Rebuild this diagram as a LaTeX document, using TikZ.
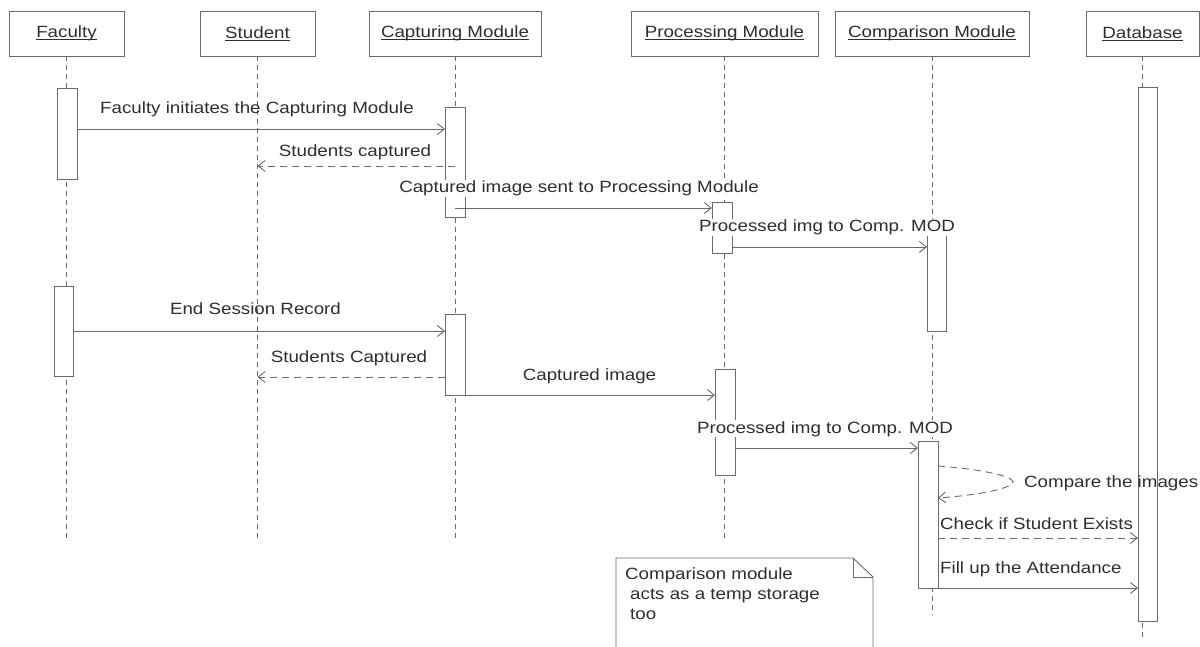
\documentclass[tikz,border=0pt]{standalone}
\usepackage{fontspec}
\setmainfont{Liberation Sans}[FakeStretch=1.15]
\usetikzlibrary{arrows.meta}

\definecolor{ink}{HTML}{2E2E2E}
\definecolor{wire}{HTML}{6A6A6A}

% underlined header caption, rule crossing the descenders
\newsavebox\hdrbox
\newcommand\hdrline[1]{\sbox\hdrbox{#1}\rlap{\rule[-2.2pt]{\wd\hdrbox}{0.9pt}}\usebox\hdrbox}

\begin{document}
\begin{tikzpicture}[
  x=1pt, y=-1pt,
  font=\fontsize{16.3pt}{19pt}\selectfont,
  text=ink,
  head/.style={draw=wire, line width=0.9pt, fill=white, inner sep=0pt,
    outer sep=0pt, minimum height=45pt},
  act/.style={draw=wire, line width=0.9pt, fill=white, inner sep=0pt,
    outer sep=0pt},
  life/.style={draw=wire, line width=0.9pt, dash pattern=on 5pt off 4pt},
  msg/.style={draw=wire, line width=0.9pt,
    -{Straight Barb[length=7pt,width=11pt]}},
  reply/.style={msg, dash pattern=on 7pt off 5pt},
  lbl/.style={anchor=base, inner sep=0pt},
  cover/.style={lbl, fill=white, inner sep=1pt},
  lblw/.style={anchor=base west, inner sep=0pt},
]
\useasboundingbox (0,0) rectangle (1200,647);
\fill[white] (0,0) rectangle (1200,647);

% ---- participants
\node[head, minimum width=115pt] (fac) at (66.5,33.5)  {\hdrline{Faculty}};
\node[head, minimum width=115pt] (stu) at (257.5,33.5) {\hdrline{Student}};
\node[head, minimum width=172pt] (cap) at (455,33.5)   {\hdrline{Capturing Module}};
\node[head, minimum width=187pt] (pro) at (724.5,33.5) {\hdrline{Processing Module}};
\node[head, minimum width=194pt] (cmp) at (932,33.5)   {\hdrline{Comparison Module}};
\node[head, minimum width=113pt] (dbs) at (1142.5,33.5){\hdrline{Database}};

% ---- lifelines
\draw[life] (fac.south) -- (fac.south |- 0,540);
\draw[life] (stu.south) -- (stu.south |- 0,540);
\draw[life] (cap.south) -- (cap.south |- 0,540);
\draw[life] (pro.south) -- (pro.south |- 0,540);
\draw[life] (cmp.south) -- (cmp.south |- 0,615);
\draw[life] (dbs.south) -- (dbs.south |- 0,640);

% ---- activation bars
\node[act, minimum width=20pt, minimum height=91pt]  (fa1) at (67,133.5)   {};
\node[act, minimum width=19pt, minimum height=90pt]  (fa2) at (63.5,331)   {};
\node[act, minimum width=20pt, minimum height=110pt] (ca1) at (455,162)    {};
\node[act, minimum width=20pt, minimum height=81pt]  (ca2) at (455,354.5)  {};
\node[act, minimum width=20pt, minimum height=51pt]  (pa1) at (722,227.5)  {};
\node[act, minimum width=20pt, minimum height=106pt] (pa2) at (725,422)    {};
\node[act, minimum width=19pt, minimum height=97pt]  (ma1) at (936.5,282.5){};
\node[act, minimum width=20pt, minimum height=147pt] (ma2) at (928,514.5)  {};
\node[act, minimum width=19pt, minimum height=534pt] (da1) at (1147.5,354) {};

% ---- messages
\draw[msg]   (fa1.east |- 0,129) -- (ca1.west |- 0,129);
\draw[reply] (ca1.center |- 0,166) -- (stu.south |- 0,166);
\draw[msg]   (ca1.center |- 0,208) -- (pa1.west |- 0,208);
\draw[msg]   (pa1.east |- 0,247) -- (ma1.west |- 0,247);
\draw[msg]   (fa2.east |- 0,331) -- (ca2.west |- 0,331);
\draw[reply] (ca2.west |- 0,377) -- (stu.south |- 0,377);
\draw[msg]   (ca2.south east) -- (pa2.west |- ca2.south east);
\draw[msg]   (pa2.east |- 0,448) -- (ma2.west |- 0,448);
\draw[reply] (ma2.east |- 0,466) .. controls (980,469) and (1013,476) .. (1013,482)
             .. controls (1013,488) and (980,495) .. (ma2.east |- 0,498);
\draw[reply] (ma2.east |- 0,538) -- (da1.west |- 0,538);
\draw[msg]   (ma2.east |- 0,588) -- (da1.west |- 0,588);

% ---- message labels
\node[lbl]   (l1)  at (257,114)   {Faculty initiates the Capturing Module};
\node[lbl]   (l2)  at (355,157)   {Students captured};
\node[cover] (l3)  at (579,193)   {Captured image sent to Processing Module};
\node[cover] (l4)  at (827,232)   {Processed img to Comp. MOD};
\node[lbl]   (l5)  at (255.5,315) {End Session Record};
\node[lbl]   (l6)  at (349,362)   {Students Captured};
\node[lbl]   (l7)  at (589.5,380) {Captured image};
\node[cover] (l8)  at (825,433)   {Processed img to Comp. MOD};
\node[lblw]  (l9)  at (1024,487)  {Compare the images};
\node[lblw]  (l10) at (940,529)   {Check if Student Exists};
\node[lblw]  (l11) at (940,573)   {Fill up the Attendance};

% ---- note with folded corner
\draw[wire, line width=0.9pt, fill=white]
  (616,652) -- (616,558) -- (853,558) -- (873,577) -- (873,652);
\draw[wire, line width=0.9pt] (853,558) -- (853,577) -- (873,577);
\node[lblw] (n1) at (625,579) {Comparison module};
\node[lblw] (n2) at (630,599) {acts as a temp storage};
\node[lblw] (n3) at (630,619) {too};
\end{tikzpicture}
\end{document}
